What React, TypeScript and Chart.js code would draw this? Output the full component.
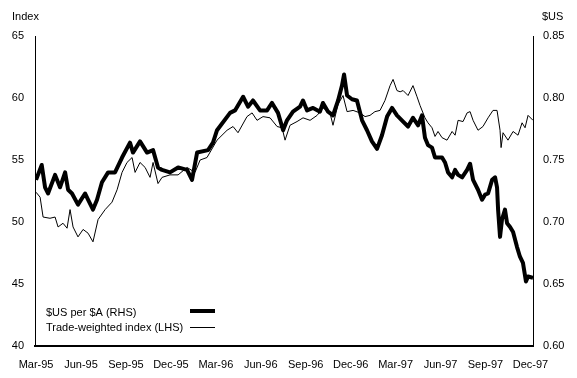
import React, { useEffect, useRef } from "react";
import { Chart, registerables } from "chart.js";

Chart.register(...registerables);

// x positions: months since March 1995
const tickMonths = [0, 3, 6, 9, 12, 15, 18, 21, 24, 27, 30, 33];
const tickLabels = ["Mar-95", "Jun-95", "Sep-95", "Dec-95", "Mar-96", "Jun-96", "Sep-96", "Dec-96", "Mar-97", "Jun-97", "Sep-97", "Dec-97"];

const leftTicks = [40, 45, 50, 55, 60, 65];
const rightTicks = [0.6, 0.65, 0.7, 0.75, 0.8, 0.85];

// $US per $A (RHS)
const usdMonths = [0,0.38,0.60,0.80,1.27,1.60,1.94,2.14,2.40,2.80,3.27,3.47,3.80,4.07,4.40,4.81,5.27,5.74,6.27,6.47,6.94,7.41,7.81,8.14,8.41,8.94,9.48,10.08,10.41,10.75,11.48,11.81,12.08,12.95,13.28,13.82,14.15,14.48,14.95,15.42,15.75,16.15,16.49,16.75,17.15,17.62,17.82,18.09,18.49,18.95,19.15,19.49,19.82,20.16,20.42,20.56,20.76,21.09,21.42,21.76,22.09,22.42,22.76,23.09,23.43,23.76,24.09,24.50,24.83,25.16,25.50,25.76,25.96,26.16,26.43,26.63,26.83,27.10,27.30,27.50,27.77,27.97,28.17,28.44,28.77,28.97,29.17,29.50,29.77,29.97,30.17,30.44,30.64,30.77,30.84,30.97,31.10,31.30,31.44,31.64,31.84,32.10,32.30,32.50,32.70,32.84,33.17];
const usdValues = [0.734,0.746,0.728,0.723,0.738,0.728,0.740,0.726,0.723,0.714,0.723,0.718,0.710,0.718,0.732,0.740,0.740,0.752,0.764,0.756,0.765,0.756,0.758,0.744,0.742,0.740,0.744,0.742,0.734,0.756,0.758,0.764,0.774,0.788,0.790,0.801,0.793,0.798,0.790,0.790,0.796,0.788,0.774,0.782,0.789,0.793,0.798,0.790,0.792,0.789,0.796,0.789,0.786,0.798,0.810,0.819,0.802,0.799,0.798,0.782,0.774,0.765,0.759,0.770,0.785,0.792,0.786,0.781,0.777,0.784,0.778,0.786,0.768,0.762,0.760,0.752,0.752,0.752,0.748,0.740,0.736,0.742,0.738,0.736,0.742,0.747,0.734,0.726,0.718,0.722,0.723,0.734,0.736,0.728,0.710,0.688,0.702,0.710,0.699,0.696,0.692,0.680,0.672,0.667,0.652,0.656,0.655];

// Trade-weighted index (LHS)
const twiMonths = [0,0.27,0.47,0.93,1.27,1.47,1.80,2.07,2.27,2.47,2.80,3.14,3.47,3.80,4.14,4.61,5.07,5.41,5.74,6.07,6.41,6.61,6.94,7.28,7.61,7.81,8.14,8.41,8.94,9.48,10.08,10.61,10.95,11.41,12.08,12.75,13.15,13.48,14.08,14.42,14.75,15.15,15.62,16.09,16.42,16.62,16.95,17.42,17.82,18.29,18.76,19.15,19.62,19.82,20.16,20.49,20.76,21.16,21.62,21.96,22.29,22.62,22.96,23.29,23.63,23.83,24.09,24.30,24.50,24.83,25.16,25.43,25.63,25.96,26.16,26.43,26.63,26.83,27.10,27.43,27.77,27.97,28.17,28.50,28.77,28.97,29.17,29.50,29.83,30.17,30.50,30.77,30.97,31.04,31.17,31.50,31.84,32.17,32.44,32.64,32.84,33.17];
const twiValues = [52.4,52.0,50.4,50.3,50.4,49.6,49.9,49.5,51.0,49.6,48.8,49.4,49.1,48.4,50.2,51.0,51.6,52.6,54.0,54.8,55.2,54.0,54.8,54.4,53.6,54.8,53.1,53.6,53.8,53.8,54.4,54.0,55.0,55.2,56.6,57.4,57.7,57.2,58.5,58.8,58.2,58.5,58.4,57.7,57.6,56.6,57.8,58.1,58.4,58.2,58.6,59.2,58.8,57.8,59.5,60.2,58.9,59.0,58.8,58.5,58.6,58.9,59.0,59.8,61.0,61.5,60.6,60.5,60.6,60.2,61.0,60.1,59.4,58.4,58.0,57.6,56.9,57.3,56.8,56.6,57.3,57.0,58.2,58.1,58.8,58.9,58.2,57.4,57.7,58.4,59.0,59.0,57.4,56.0,57.2,56.6,57.3,57.0,58.0,57.6,58.6,58.2];

const usdLabel = "$US per $A (RHS)";
const twiLabel = "Trade-weighted index (LHS)";

const FAMILY = "'Liberation Sans', Arial, sans-serif";
const FONT = "11px " + FAMILY;

const overlay = {
  id: "overlay",
  afterDraw(chart: any) {
    const ctx = chart.ctx;
    const area = chart.chartArea;
    ctx.save();
    ctx.fillStyle = "#000";
    ctx.font = FONT;
    ctx.textBaseline = "alphabetic";
    ctx.textAlign = "left";
    ctx.fillText("Index", 12, 20);
    ctx.fillText("$US", 542, 20);
    // legend
    const lx = area.left + 11;
    ctx.fillText(usdLabel, lx, 316);
    ctx.fillText(twiLabel, lx, 331);
    ctx.strokeStyle = "#000";
    ctx.lineWidth = 4;
    ctx.beginPath();
    ctx.moveTo(190, 311);
    ctx.lineTo(215, 311);
    ctx.stroke();
    ctx.lineWidth = 1;
    ctx.beginPath();
    ctx.moveTo(190, 327.5);
    ctx.lineTo(215, 327.5);
    ctx.stroke();
    ctx.restore();
  },
};

export default function App() {
  const ref = useRef<HTMLCanvasElement | null>(null);
  useEffect(() => {
    document.body.style.margin = "0";
    const canvas = ref.current!;
    const chart = new Chart(canvas, {
      type: "line",
      data: {
        datasets: [
          {
            label: usdLabel,
            data: usdMonths.map((m, i) => ({ x: m, y: usdValues[i] })),
            yAxisID: "y1",
            borderColor: "#000",
            borderWidth: 4,
            pointRadius: 0,
            tension: 0,
            borderJoinStyle: "round",
          },
          {
            label: twiLabel,
            data: twiMonths.map((m, i) => ({ x: m, y: twiValues[i] })),
            yAxisID: "y",
            borderColor: "#000",
            borderWidth: 1,
            pointRadius: 0,
            tension: 0,
          },
        ],
      },
      options: {
        animation: false,
        responsive: true,
        maintainAspectRatio: false,
        layout: { padding: { top: 36, left: 0, right: 0, bottom: 0 } },
        plugins: { legend: { display: false }, tooltip: { enabled: false } },
        scales: {
          x: {
            type: "linear",
            min: -0.07,
            max: 33.17,
            grid: { display: false, drawTicks: false },
            border: { display: true, color: "#000", width: 2 },
            afterBuildTicks: (s: any) => {
              s.ticks = tickMonths.map((v) => ({ value: v }));
            },
            afterFit: (s: any) => {
              s.height = 32;
            },
            ticks: {
              autoSkip: false,
              maxRotation: 0,
              padding: 12,
              color: "#000",
              font: { family: FAMILY, size: 11 },
              callback: (v: any) => {
                const i = tickMonths.indexOf(Number(v));
                return i >= 0 ? tickLabels[i] : "";
              },
            },
          },
          y: {
            position: "left",
            min: 40,
            max: 65,
            grid: { display: false, drawTicks: false },
            border: { display: true, color: "#000", width: 1 },
            afterBuildTicks: (s: any) => {
              s.ticks = leftTicks.map((v) => ({ value: v }));
            },
            afterFit: (s: any) => {
              s.width = 35;
            },
            ticks: {
              padding: 11,
              color: "#000",
              font: { family: FAMILY, size: 11 },
              callback: (v: any) => String(v),
            },
          },
          y1: {
            position: "right",
            min: 0.6,
            max: 0.85,
            grid: { display: false, drawTicks: false },
            border: { display: true, color: "#000", width: 1 },
            afterBuildTicks: (s: any) => {
              s.ticks = rightTicks.map((v) => ({ value: v }));
            },
            afterFit: (s: any) => {
              s.width = 44;
            },
            ticks: {
              padding: 10,
              color: "#000",
              font: { family: FAMILY, size: 11 },
              callback: (v: any) => Number(v).toFixed(2),
            },
          },
        },
      },
      plugins: [overlay],
    });
    return () => chart.destroy();
  }, []);
  return (
    <div style={{ width: 577, height: 378, position: "relative" }}>
      <canvas ref={ref} />
    </div>
  );
}
